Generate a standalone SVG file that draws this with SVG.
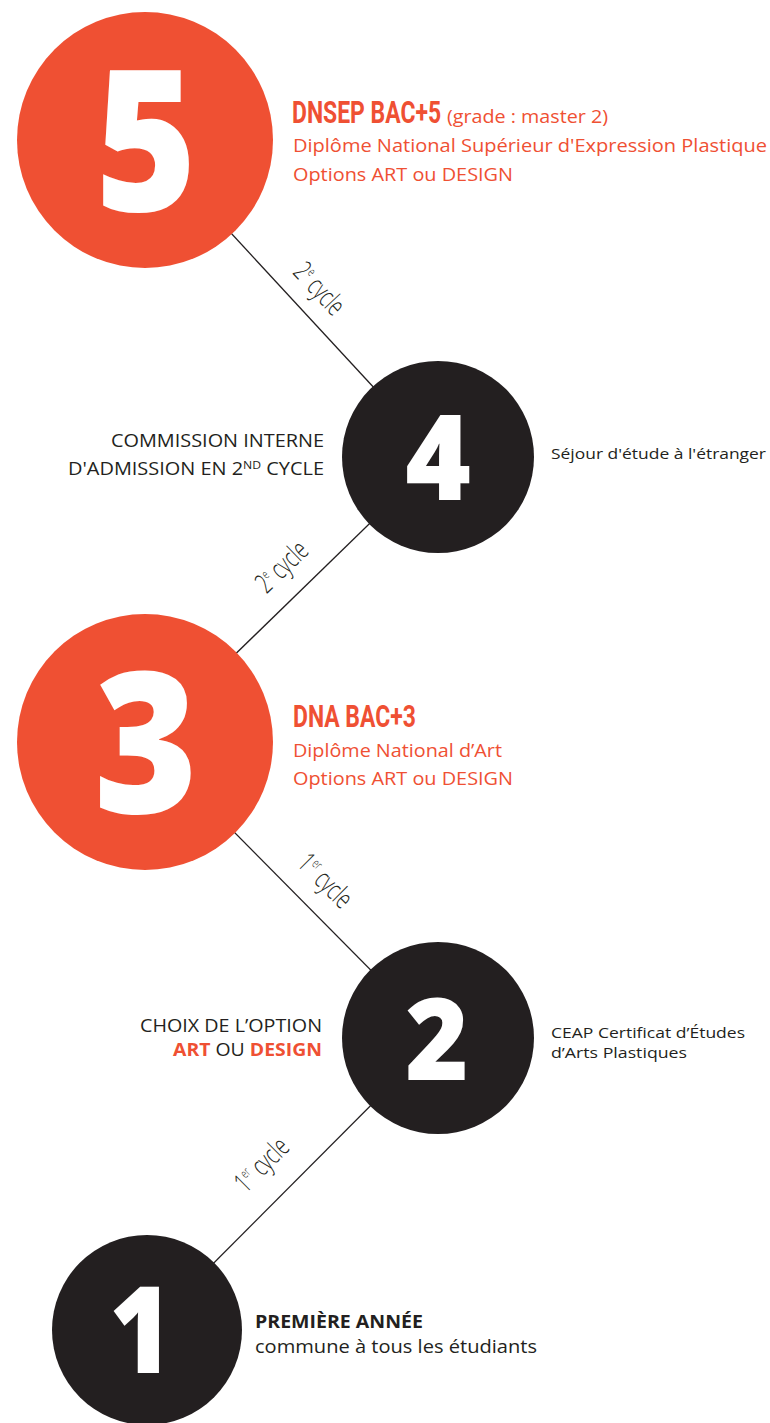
<svg xmlns="http://www.w3.org/2000/svg" width="770" height="1423" viewBox="0 0 770 1423">
<style>
.or{fill:#EF5033}
.bk{fill:#231F20}
.num{fill:#FFFFFF;font-family:"Open Sans","Noto Sans",sans-serif;font-weight:800;text-anchor:middle}
.cyc{fill:#231F20;font-family:"Open Sans","Noto Sans",sans-serif;font-weight:300;font-size:28px;text-anchor:middle}
.body{font-family:"Open Sans","Noto Sans",sans-serif;font-size:18px}
.sm{font-family:"Open Sans","Noto Sans",sans-serif;font-size:15px;fill:#231F20}
.ot{fill:#EF5033}
.dt{fill:#231F20}
.hd{font-family:Roboto,"Liberation Sans",sans-serif;font-weight:700;font-size:31px;fill:#EF5033}
.conn line{stroke:#231F20;stroke-width:1.3}
</style>
<rect width="770" height="1423" fill="#FFFFFF"/>
<g id="connectors" class="conn">
<line x1="145" y1="140" x2="438" y2="457"/>
<line x1="438" y1="457" x2="145" y2="742"/>
<line x1="145" y1="742" x2="438" y2="1038"/>
<line x1="438" y1="1038" x2="147" y2="1330"/>
</g>
<g id="cycle-labels">
<text class="cyc" transform="translate(319,289) rotate(47) scale(0.66,1)" dy="9">2<tspan font-size="13" dy="-11">e</tspan><tspan dy="11"> cycle</tspan></text>
<text class="cyc" transform="translate(282,567) rotate(-44) scale(0.66,1)" dy="9">2<tspan font-size="13" dy="-11">e</tspan><tspan dy="11"> cycle</tspan></text>
<text class="cyc" transform="translate(325,881) rotate(45) scale(0.66,1)" dy="9">1<tspan font-size="13" dy="-11">er</tspan><tspan dy="11"> cycle</tspan></text>
<text class="cyc" transform="translate(262,1165) rotate(-45) scale(0.66,1)" dy="9">1<tspan font-size="13" dy="-11">er</tspan><tspan dy="11"> cycle</tspan></text>
</g>
<g id="node5">
<circle class="or" cx="145" cy="140" r="128"/>
<text class="num" transform="translate(146,211) scale(0.88,1)" font-size="197">5</text>
<text class="hd" transform="translate(292,123) scale(0.74,1)">DNSEP BAC+5</text>
<text class="body ot" x="447" y="123" textLength="161" lengthAdjust="spacingAndGlyphs">(grade : master 2)</text>
<text class="body ot" x="293" y="152" textLength="474" lengthAdjust="spacingAndGlyphs">Diplôme National Supérieur d'Expression Plastique</text>
<text class="body ot" x="293" y="181" textLength="220" lengthAdjust="spacingAndGlyphs">Options ART ou DESIGN</text>
</g>
<g id="node4">
<circle class="bk" cx="438" cy="457" r="96"/>
<text class="num" transform="translate(438,500) scale(0.95,1)" font-size="118">4</text>
<text class="body dt" x="324" y="447" text-anchor="end" textLength="213" lengthAdjust="spacingAndGlyphs">COMMISSION INTERNE</text>
<text class="body dt" x="324" y="475" text-anchor="end" textLength="256" lengthAdjust="spacingAndGlyphs">D'ADMISSION EN 2<tspan font-size="11" dy="-6">ND</tspan><tspan dy="6"> CYCLE</tspan></text>
<text class="sm" x="551" y="459" textLength="215" lengthAdjust="spacingAndGlyphs">Séjour d'étude à l'étranger</text>
</g>
<g id="node3">
<circle class="or" cx="145" cy="742" r="128"/>
<text class="num" transform="translate(146,813) scale(0.9,1)" font-size="197">3</text>
<text class="hd" transform="translate(293,727) scale(0.74,1)">DNA BAC+3</text>
<text class="body ot" x="293" y="757" textLength="209" lengthAdjust="spacingAndGlyphs">Diplôme National d’Art</text>
<text class="body ot" x="293" y="785" textLength="220" lengthAdjust="spacingAndGlyphs">Options ART ou DESIGN</text>
</g>
<g id="node2">
<circle class="bk" cx="438" cy="1038" r="96"/>
<text class="num" transform="translate(437,1080) scale(0.95,1)" font-size="114">2</text>
<text class="body dt" x="322" y="1032" text-anchor="end" textLength="182" lengthAdjust="spacingAndGlyphs">CHOIX DE L’OPTION</text>
<text class="body dt" x="322" y="1056" text-anchor="end" textLength="149" lengthAdjust="spacingAndGlyphs"><tspan font-weight="700" fill="#EF5033">ART</tspan> OU <tspan font-weight="700" fill="#EF5033">DESIGN</tspan></text>
<text class="sm" x="551" y="1038" textLength="194" lengthAdjust="spacingAndGlyphs">CEAP Certificat d’Études</text>
<text class="sm" x="551" y="1058" textLength="136" lengthAdjust="spacingAndGlyphs">d’Arts Plastiques</text>
</g>
<g id="node1">
<circle class="bk" cx="147" cy="1330" r="95"/>
<text class="num" transform="translate(141,1373) scale(0.9,1)" font-size="120">1</text>
<text class="body dt" x="255" y="1328" font-weight="700" textLength="168" lengthAdjust="spacingAndGlyphs">PREMIÈRE ANNÉE</text>
<text class="body dt" x="255" y="1353" textLength="282" lengthAdjust="spacingAndGlyphs">commune à tous les étudiants</text>
</g>
</svg>
